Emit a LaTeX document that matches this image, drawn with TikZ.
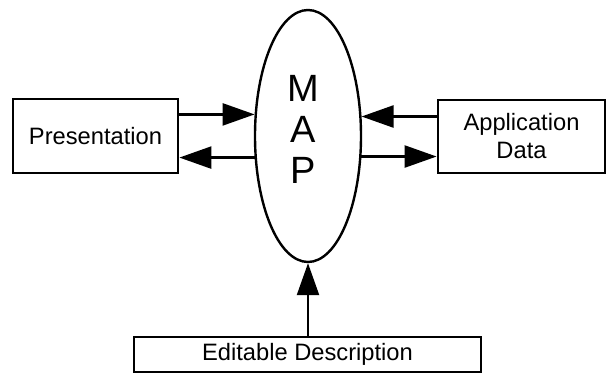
\documentclass[tikz,border=0pt]{standalone}
\usepackage{fontspec}
\setmainfont{Liberation Sans}
\usetikzlibrary{shapes.geometric,arrows.meta}
\begin{document}
\begin{tikzpicture}[x=1pt,y=-1pt,
  boxnode/.style={draw, line width=2.8pt, rectangle, inner sep=0pt, align=center,
    font=\fontsize{23.7}{28}\selectfont},
  mapshape/.style={draw, line width=2.4pt, ellipse, inner sep=0pt,
    minimum width=106pt, minimum height=252pt},
  maptext/.style={align=center, inner sep=0pt, font=\fontsize{38}{41}\selectfont},
  arr/.style={line width=2.4pt, -{Triangle[length=32pt,width=22pt]}}
]
\useasboundingbox (0,0) rectangle (606,374);
\node[boxnode, minimum width=165pt, minimum height=74pt] (pres) at (95.5,136) {Presentation};
\node[boxnode, minimum width=167pt, minimum height=73pt] (app) at (521.5,136.5) {Application\\Data};
\node[boxnode, minimum width=347pt, minimum height=35pt] (edit) at (307.5,354.5) {Editable Description};
\node[mapshape] (map) at (308,136) {};
\node[maptext] (maplbl) at (303,129) {M\\A\\P};
\draw[arr] (pres.east |- map.158) -- (map.158);
\draw[arr] (map.202) -- (pres.east |- map.202);
\draw[arr] (app.west |- map.20) -- (map.20);
\draw[arr] (map.-21) -- (app.west |- map.-21);
\draw[arr] (edit.north -| map.south) -- (map.south);
\end{tikzpicture}
\end{document}
